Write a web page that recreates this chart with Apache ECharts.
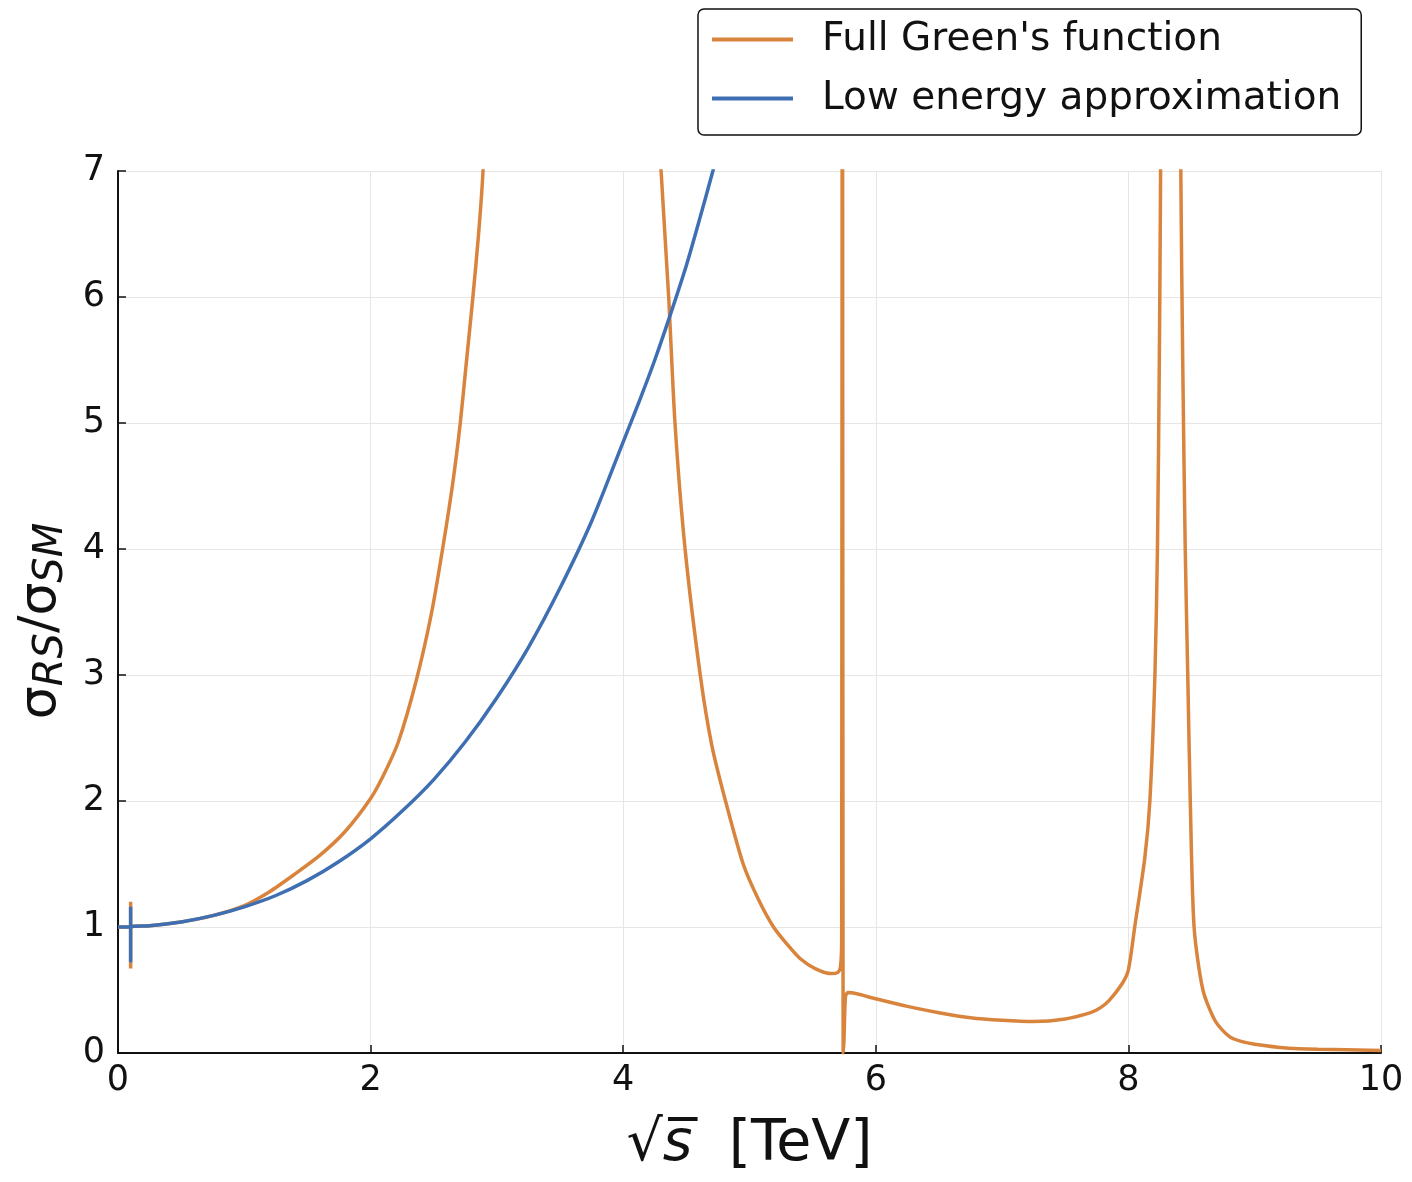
<!DOCTYPE html>
<html>
<head>
<meta charset="utf-8">
<script src="https://cdn.jsdelivr.net/npm/echarts@6/dist/echarts.min.js"></script>
<style>
  html, body { margin: 0; padding: 0; background: #fff; }
  #chart { width: 1412px; height: 1182px; }
</style>
</head>
<body>
<div id="chart"></div>
<script>
// sqrt(s) [TeV] and sigma ratio
// (values above 7 are only there so the clipped line leaves the top edge)
const fullX = [0, 0.1, 0.1, 0.1, 0.1, 0.25, 0.5, 0.75, 1.0, 1.2, 1.4, 1.6, 1.8, 2.0, 2.1, 2.22, 2.36, 2.48, 2.57, 2.65, 2.71, 2.76, 2.81, 2.855, 2.89, 2.95, 3.1, 3.6,
  4.1, 4.25, 4.3, 4.36, 4.41, 4.49, 4.61, 4.7, 4.81, 4.95, 5.07, 5.19, 5.3, 5.4, 5.52, 5.65, 5.7, 5.72, 5.73, 5.735, 5.742, 5.748, 5.76, 5.78, 5.85,
  6.0, 6.25, 6.5, 6.75, 7.0, 7.25, 7.5, 7.7, 7.78, 7.85, 7.95, 8.0, 8.05, 8.13, 8.17, 8.21, 8.23, 8.245, 8.255, 8.3, 8.34,
  8.38, 8.415, 8.43, 8.45, 8.47, 8.49, 8.52, 8.59, 8.69, 8.8, 8.9, 9.0, 9.25, 9.5, 10]
const fullY = [1.0, 1.0, 1.2, 0.67, 1.0, 1.01, 1.04, 1.09, 1.17, 1.28, 1.42, 1.57, 1.76, 2.02, 2.2, 2.47, 2.95, 3.48, 4.0, 4.52, 5.0, 5.5, 6.0, 6.5, 7.0, 8.5, 12, 30,
  12, 8, 7.0, 6.0, 5.0, 4.0, 3.0, 2.45, 2.0, 1.5, 1.22, 1.0, 0.86, 0.75, 0.67, 0.63, 0.64, 0.68, 0.9, 12, 0.0, 0.1, 0.45, 0.48, 0.47,
  0.43, 0.37, 0.32, 0.28, 0.26, 0.25, 0.27, 0.32, 0.36, 0.42, 0.55, 0.66, 1.0, 1.55, 2.0, 3.0, 4.0, 5.5, 7.0, 15, 30,
  15, 7.0, 5.5, 4.0, 3.0, 2.0, 1.0, 0.5, 0.25, 0.13, 0.09, 0.07, 0.04, 0.03, 0.02]

const lowX = [0, 0.1, 0.1, 0.1, 0.1, 0.25, 0.5, 0.75, 1.0, 1.25, 1.5, 1.75, 2.0, 2.25, 2.5, 2.75, 3.0, 3.25, 3.5, 3.75, 4.0, 4.13, 4.25, 4.37, 4.5, 4.6, 4.71, 4.8]
const lowY = [1.0, 1.0, 1.16, 0.72, 1.0, 1.01, 1.04, 1.09, 1.16, 1.25, 1.37, 1.52, 1.70, 1.92, 2.17, 2.47, 2.82, 3.22, 3.69, 4.22, 4.85, 5.18, 5.5, 5.85, 6.25, 6.6, 7.0, 7.35]

const xTicks = [0, 2, 4, 6, 8, 10]
const yTicks = [0, 1, 2, 3, 4, 5, 6, 7]

const orange = '#d9843d'
const blue = '#3f6fb3'
const font = 'DejaVu Sans'

const pairs = function (xs, ys) {
  return xs.map((x, i) => [x, ys[i]])
}

const chart = echarts.init(document.getElementById('chart'))

chart.setOption({
  animation: false,
  backgroundColor: '#fff',
  textStyle: {fontFamily: font},
  grid: {left: 118, right: 31, top: 171, bottom: 129, containLabel: false},
  legend: {
    orient: 'vertical',
    left: 698,
    top: 9,
    padding: [11, 20, 17, 14],
    itemGap: 20,
    itemWidth: 81,
    itemHeight: 4,
    icon: 'rect',
    borderColor: '#111',
    borderWidth: 1.5,
    borderRadius: 6,
    textStyle: {fontSize: 39, color: '#111', fontFamily: font, padding: [0, 0, 0, 24]},
    data: ["Full Green's function", 'Low energy approximation'],
  },
  xAxis: {
    type: 'value',
    min: xTicks[0],
    max: xTicks[xTicks.length - 1],
    interval: 2,
    name: '{r|√}{s|s̅}{n|  [TeV]}',
    nameLocation: 'middle',
    nameGap: 64,
    nameTextStyle: {
      rich: {
        r: {fontSize: 57, fontFamily: font, color: '#111'},
        s: {fontSize: 57, fontFamily: font, fontStyle: 'italic', color: '#111'},
        n: {fontSize: 57, fontFamily: font, color: '#111'},
      },
    },
    axisLine: {lineStyle: {color: '#111', width: 2}},
    axisTick: {inside: true, length: 8, lineStyle: {color: '#111', width: 1.5}},
    axisLabel: {fontSize: 35, color: '#111', margin: 10, showMinLabel: true, showMaxLabel: true},
    splitLine: {show: true, lineStyle: {color: '#e6e6e6', width: 1}},
  },
  yAxis: {
    type: 'value',
    min: yTicks[0],
    max: yTicks[yTicks.length - 1],
    interval: 1,
    name: '{a|σ}{b|RS}{a|/σ}{b|SM}',
    nameLocation: 'middle',
    nameRotate: 90,
    nameGap: 44,
    nameTextStyle: {
      padding: [0, 18, 0, 0],
      rich: {
        a: {fontSize: 52, fontFamily: font, color: '#111', lineHeight: 60, verticalAlign: 'middle'},
        b: {fontSize: 40, fontFamily: font, fontStyle: 'italic', color: '#111', lineHeight: 32, verticalAlign: 'bottom'},
      },
    },
    axisLine: {show: true, lineStyle: {color: '#111', width: 2}},
    axisTick: {show: true, inside: true, length: 8, lineStyle: {color: '#111', width: 1.5}},
    axisLabel: {fontSize: 35, color: '#111', margin: 13},
    splitLine: {show: true, lineStyle: {color: '#e6e6e6', width: 1}},
  },
  series: [
    {
      name: "Full Green's function",
      type: 'line',
      data: pairs(fullX, fullY),
      symbol: 'none',
      smooth: 0.25,
      clip: true,
      color: orange,
      lineStyle: {color: orange, width: 3.5},
    },
    {
      name: 'Low energy approximation',
      type: 'line',
      data: pairs(lowX, lowY),
      symbol: 'none',
      smooth: 0.25,
      clip: true,
      color: blue,
      lineStyle: {color: blue, width: 3.5},
    },
  ],
})
</script>
</body>
</html>
